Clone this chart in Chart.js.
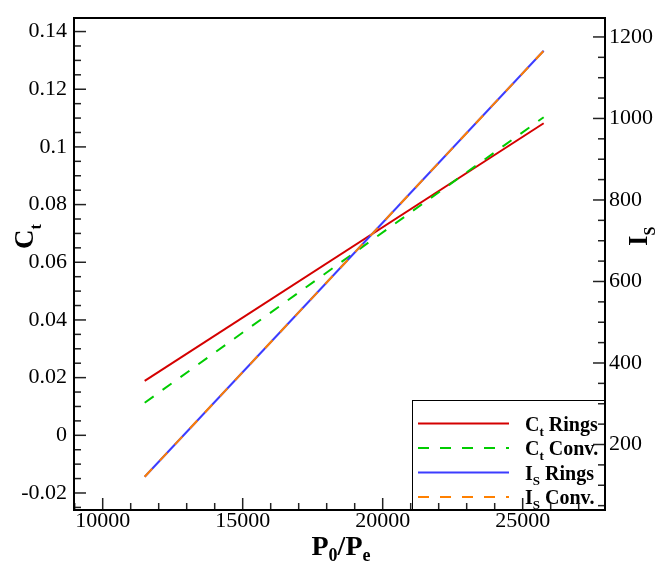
<!DOCTYPE html>
<html>
<head>
<meta charset="utf-8">
<script src="https://cdn.jsdelivr.net/npm/chart.js@4"></script>
<style>
  html, body { margin: 0; padding: 0; background: #fff; }
  #chart { display: block; }
</style>
</head>
<body>
<canvas id="chart" width="662" height="566"></canvas>
<script>
// data
const pressureRatio = [11500, 25750];
const ctRings = [0.0189, 0.1082];
const ctConv = [0.0113, 0.1103];
const isRings = [121, 1166];
const isConv = [121, 1166];

// tick labels
const xTicks = [10000, 15000, 20000, 25000];
const ctTicks = [-0.02, 0, 0.02, 0.04, 0.06, 0.08, 0.1, 0.12, 0.14];
const isTicks = [200, 400, 600, 800, 1000, 1200];

const SERIF = '"Liberation Serif", "DejaVu Serif", serif';

const toPoints = (ys) => ys.map((y, i) => ({ x: pressureRatio[i], y }));

// text with a subscript, parts = [[text, size, dy], ...]
function drawRich(ctx, parts, x, y) {
    let cx = x;
    parts.forEach(([t, size, dy]) => {
        ctx.font = `bold ${size}px ${SERIF}`;
        ctx.fillText(t, cx, y + dy);
        cx += ctx.measureText(t).width;
    });
}

function richWidth(ctx, parts) {
    let w = 0;
    parts.forEach(([t, size]) => {
        ctx.font = `bold ${size}px ${SERIF}`;
        w += ctx.measureText(t).width;
    });
    return w;
}

const legendItems = [
    { parts: [['C', 20, 0], ['t', 13, 5], [' Rings', 20, 0]], color: '#d40000', dash: [] },
    { parts: [['C', 20, 0], ['t', 13, 5], [' Conv.', 20, 0]], color: '#00cc00', dash: [11, 11] },
    { parts: [['I', 20, 0], ['S', 13, 5], [' Rings', 20, 0]], color: '#3c3cff', dash: [] },
    { parts: [['I', 20, 0], ['S', 13, 5], [' Conv.', 20, 0]], color: '#ff8000', dash: [11, 11] }
];

const framePlugin = {
    id: 'frame',
    afterDraw(chart) {
        const { ctx, chartArea: a, scales } = chart;
        ctx.save();

        // legend box
        const lx = 412, ly = 400;
        ctx.fillStyle = '#fff';
        ctx.fillRect(lx, ly, a.right - lx, a.bottom - ly);
        ctx.strokeStyle = '#000';
        ctx.lineWidth = 1;
        ctx.strokeRect(lx + 0.5, ly + 0.5, a.right - lx, a.bottom - ly);
        legendItems.forEach((item, i) => {
            const y = 423.5 + i * 24.5;
            ctx.beginPath();
            ctx.setLineDash(item.dash);
            ctx.strokeStyle = item.color;
            ctx.lineWidth = 2;
            ctx.moveTo(418, y);
            ctx.lineTo(509, y);
            ctx.stroke();
            ctx.setLineDash([]);
            ctx.fillStyle = '#000';
            ctx.textAlign = 'left';
            ctx.textBaseline = 'alphabetic';
            drawRich(ctx, item.parts, 525, y + 7);
        });

        // tick marks, pointing inwards
        ctx.strokeStyle = '#222';
        ctx.lineWidth = 1.5;
        const tick = (x1, y1, x2, y2) => {
            ctx.beginPath();
            ctx.moveTo(x1, y1);
            ctx.lineTo(x2, y2);
            ctx.stroke();
        };
        const x = scales.x, y = scales.y, y1 = scales.y1;
        for (let v = 9000; v <= 27000; v += 1000) {
            const px = x.getPixelForValue(v);
            tick(px, a.bottom, px, a.bottom - (v % 5000 === 0 ? 12 : 7));
        }
        for (let k = -5; k <= 28; k++) {
            const py = y.getPixelForValue(k * 0.005);
            tick(a.left, py, a.left + (k % 4 === 0 ? 12 : 7), py);
        }
        for (let v = 50; v <= 1200; v += 50) {
            const py = y1.getPixelForValue(v);
            if (py > a.bottom) continue;
            tick(a.right, py, a.right - (v % 200 === 0 ? 12 : 7), py);
        }

        // frame
        ctx.strokeStyle = '#000';
        ctx.lineWidth = 2;
        ctx.strokeRect(a.left, a.top, a.right - a.left, a.bottom - a.top);

        // axis titles
        ctx.fillStyle = '#000';
        ctx.textAlign = 'left';
        ctx.textBaseline = 'alphabetic';
        const xTitle = [['P', 28, 0], ['0', 18, 6], ['/P', 28, 0], ['e', 18, 6]];
        drawRich(ctx, xTitle, 341 - richWidth(ctx, xTitle) / 2, 555);

        const ctTitle = [['C', 27, 0], ['t', 16, 8]];
        ctx.save();
        ctx.translate(33, 249);
        ctx.rotate(-Math.PI / 2);
        drawRich(ctx, ctTitle, 0, 0);
        ctx.restore();

        const isTitle = [['I', 27, 0], ['S', 16, 8]];
        ctx.save();
        ctx.translate(647, 246);
        ctx.rotate(-Math.PI / 2);
        drawRich(ctx, isTitle, 0, 0);
        ctx.restore();

        ctx.restore();
    }
};

const tickFont = { family: SERIF, size: 22, lineHeight: 1 };

new Chart(document.getElementById('chart'), {
    type: 'line',
    data: {
        datasets: [
            { label: 'Ct Rings', data: toPoints(ctRings), yAxisID: 'y', order: 3, borderColor: '#d40000', borderWidth: 2, pointRadius: 0, fill: false },
            { label: 'Ct Conv.', data: toPoints(ctConv), yAxisID: 'y', order: 2, borderColor: '#00cc00', borderWidth: 2, borderDash: [11, 11], pointRadius: 0, fill: false },
            { label: 'Is Rings', data: toPoints(isRings), yAxisID: 'y1', order: 1, borderColor: '#3c3cff', borderWidth: 2, pointRadius: 0, fill: false },
            { label: 'Is Conv.', data: toPoints(isConv), yAxisID: 'y1', order: 0, borderColor: '#ff8000', borderWidth: 2, borderDash: [11, 11], pointRadius: 0, fill: false }
        ]
    },
    options: {
        responsive: false,
        animation: false,
        devicePixelRatio: 1,
        layout: { padding: { top: 9 } },
        plugins: { legend: { display: false }, tooltip: { enabled: false } },
        scales: {
            x: {
                type: 'linear',
                position: 'bottom',
                min: 8975,
                max: 27940,
                afterBuildTicks: (s) => { s.ticks = xTicks.map(v => ({ value: v })); },
                afterFit: (s) => { s.height = 56; },
                ticks: { font: tickFont, color: '#000', padding: 0, maxRotation: 0, callback: (v) => String(v) },
                grid: { display: false, drawTicks: false },
                border: { display: false }
            },
            y: {
                type: 'linear',
                position: 'left',
                min: -0.0259,
                max: 0.1447,
                afterBuildTicks: (s) => { s.ticks = ctTicks.map(v => ({ value: v })); },
                afterFit: (s) => { s.width = 74; },
                ticks: { font: tickFont, color: '#000', padding: 7, callback: (v) => String(Math.round(v * 1000) / 1000) },
                grid: { display: false, drawTicks: false },
                border: { display: false }
            },
            y1: {
                type: 'linear',
                position: 'right',
                min: 39.3,
                max: 1246.5,
                afterBuildTicks: (s) => { s.ticks = isTicks.map(v => ({ value: v })); },
                afterFit: (s) => { s.width = 57; },
                ticks: { font: tickFont, color: '#000', padding: 4, callback: (v) => String(v) },
                grid: { display: false, drawTicks: false },
                border: { display: false }
            }
        }
    },
    plugins: [framePlugin]
});
</script>
</body>
</html>
